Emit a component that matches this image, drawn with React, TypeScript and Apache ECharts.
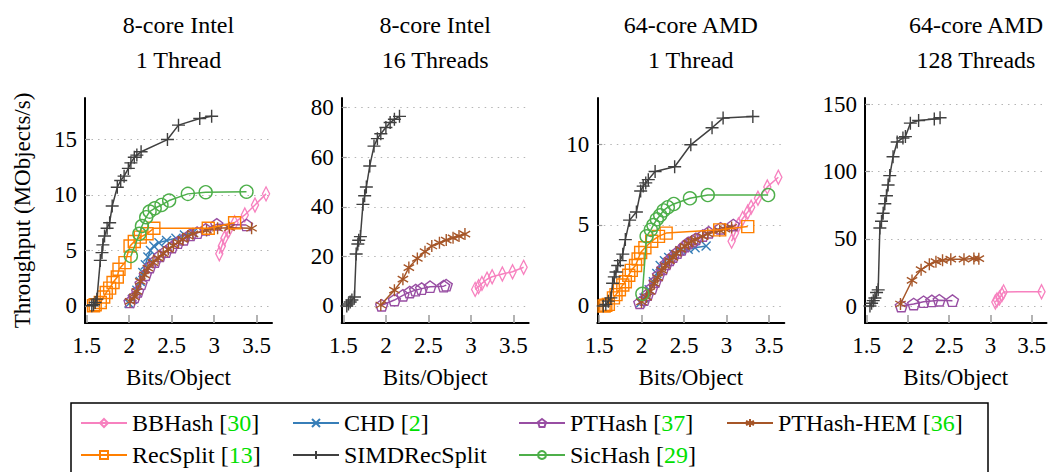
import React, { useEffect, useRef } from "react";
import * as echarts from "echarts";

const FONT = "Liberation Serif, serif";

// ---------- tick labels & titles ----------
const panelTitles = [
  "8-core Intel\n1 Thread",
  "8-core Intel\n16 Threads",
  "64-core AMD\n1 Thread",
  "64-core AMD\n128 Threads",
];
const xTicks = [1.5, 2, 2.5, 3, 3.5];
const yTicksI1 = [0, 5, 10, 15];
const yTicksI16 = [0, 20, 40, 60, 80];
const yTicksA1 = [0, 5, 10];
const yTicksA128 = [0, 50, 100, 150];

// ---------- Panel 1: 8-core Intel, 1 thread ----------
const bbhashI1 = [[3.06, 4.7], [3.09, 5.4], [3.12, 6.1], [3.17, 6.8], [3.24, 7.5], [3.36, 8.2], [3.48, 9.1], [3.61, 10.1]];
const chdI1 = [[2.0, 0.2], [2.04, 0.6], [2.09, 1.4], [2.13, 2.2], [2.16, 3.0], [2.19, 3.7], [2.22, 4.4], [2.25, 5.0], [2.29, 5.4], [2.35, 5.7], [2.44, 5.9], [2.55, 6.1], [2.65, 6.4], [2.75, 6.6]];
const pthashI1 = [[2.01, 0.35], [2.06, 0.8], [2.1, 1.3], [2.14, 2.0], [2.19, 2.8], [2.24, 3.5], [2.3, 4.0], [2.36, 4.5], [2.43, 4.9], [2.5, 5.3], [2.57, 5.7], [2.64, 6.0], [2.72, 6.4], [2.8, 6.6], [2.9, 6.9], [3.03, 7.35], [3.38, 7.3]];
const hemI1 = [[2.01, 0.4], [2.06, 0.8], [2.09, 1.3], [2.13, 2.2], [2.18, 2.8], [2.22, 3.4], [2.28, 3.9], [2.34, 4.3], [2.4, 4.7], [2.46, 5.1], [2.52, 5.45], [2.58, 5.75], [2.63, 6.0], [2.69, 6.3], [2.75, 6.5], [2.91, 6.8], [3.04, 7.0], [3.18, 7.05], [3.44, 7.0]];
const recsplitI1 = [[1.58, 0.0], [1.6, 0.1], [1.66, 0.3], [1.7, 0.8], [1.73, 1.2], [1.77, 1.6], [1.81, 2.1], [1.86, 2.6], [1.88, 3.3], [1.95, 3.9], [2.01, 5.4], [2.06, 5.8], [2.13, 6.2], [2.21, 6.5], [2.29, 7.0], [2.93, 7.0], [3.24, 7.5]];
const simdI1 = [[1.56, 0.0], [1.58, 0.1], [1.6, 0.3], [1.62, 0.6], [1.66, 4.1], [1.68, 4.8], [1.69, 5.5], [1.71, 6.3], [1.74, 7.0], [1.77, 7.5], [1.8, 9.0], [1.86, 10.7], [1.9, 11.3], [1.94, 11.7], [1.99, 12.4], [2.02, 12.9], [2.06, 13.4], [2.09, 13.6], [2.14, 13.9], [2.45, 15.0], [2.58, 16.3], [2.83, 16.9], [2.97, 17.1]];
const sichashI1 = [[2.02, 4.5], [2.12, 6.5], [2.15, 7.2], [2.2, 8.0], [2.24, 8.5], [2.3, 8.8], [2.38, 9.1], [2.47, 9.5], [2.69, 10.1], [2.9, 10.25], [3.38, 10.3]];

// ---------- Panel 2: 8-core Intel, 16 threads ----------
const bbhashI16 = [[3.05, 6.7], [3.09, 7.8], [3.13, 9.1], [3.19, 10.8], [3.25, 11.8], [3.37, 12.9], [3.49, 13.8], [3.62, 15.6]];
const pthashI16 = [[1.95, 0.3], [2.1, 2.4], [2.2, 4.3], [2.28, 5.6], [2.35, 6.4], [2.42, 7.0], [2.52, 7.8], [2.68, 8.0], [2.71, 8.4]];
const hemI16 = [[1.94, 0.4], [2.1, 6.4], [2.2, 10.8], [2.27, 15.5], [2.37, 19.2], [2.46, 21.9], [2.54, 24.2], [2.63, 25.5], [2.71, 26.6], [2.79, 27.5], [2.86, 28.2], [2.93, 29.0]];
const simdI16 = [[1.54, 0.0], [1.56, 0.8], [1.58, 1.6], [1.6, 2.4], [1.63, 3.6], [1.65, 21.0], [1.67, 25.0], [1.68, 26.5], [1.7, 28.0], [1.73, 41.0], [1.75, 44.5], [1.77, 48.0], [1.81, 56.5], [1.86, 64.5], [1.9, 67.5], [1.94, 69.5], [2.0, 72.0], [2.05, 74.0], [2.1, 75.3], [2.16, 76.5]];

// ---------- Panel 3: 64-core AMD, 1 thread ----------
const bbhashA1 = [[3.06, 4.0], [3.1, 4.5], [3.14, 5.0], [3.19, 5.4], [3.25, 5.8], [3.29, 6.1], [3.37, 6.65], [3.48, 7.35], [3.61, 7.95]];
const chdA1 = [[1.99, 0.2], [2.03, 0.5], [2.09, 1.0], [2.14, 1.5], [2.18, 2.0], [2.22, 2.5], [2.27, 2.8], [2.32, 3.0], [2.38, 3.2], [2.45, 3.4], [2.55, 3.5], [2.63, 3.6], [2.76, 3.7]];
const pthashA1 = [[1.98, 0.2], [2.03, 0.4], [2.07, 0.7], [2.12, 1.1], [2.16, 1.5], [2.2, 1.9], [2.25, 2.3], [2.29, 2.6], [2.33, 2.85], [2.37, 3.05], [2.42, 3.3], [2.47, 3.5], [2.51, 3.7], [2.55, 3.9], [2.6, 4.0], [2.64, 4.15], [2.72, 4.35], [2.79, 4.55], [2.93, 4.8], [3.08, 5.0]];
const hemA1 = [[2.0, 0.25], [2.06, 0.55], [2.1, 0.9], [2.15, 1.4], [2.19, 1.75], [2.24, 2.2], [2.28, 2.5], [2.33, 2.8], [2.37, 3.0], [2.41, 3.25], [2.46, 3.5], [2.51, 3.7], [2.55, 3.85], [2.59, 4.0], [2.63, 4.1], [2.72, 4.3], [2.78, 4.45], [2.92, 4.65], [2.98, 4.75], [3.06, 4.85]];
const recsplitA1 = [[1.56, 0.0], [1.58, 0.05], [1.61, 0.1], [1.67, 0.5], [1.7, 0.7], [1.74, 1.0], [1.78, 1.3], [1.81, 1.5], [1.85, 1.9], [1.88, 2.2], [1.93, 2.5], [1.96, 2.9], [1.99, 3.3], [2.04, 3.6], [2.12, 4.0], [2.2, 4.3], [2.29, 4.5], [2.92, 4.7], [3.25, 4.9]];
const simdA1 = [[1.55, 0.0], [1.58, 0.1], [1.61, 0.3], [1.64, 0.5], [1.66, 1.4], [1.68, 1.8], [1.7, 2.1], [1.72, 2.5], [1.75, 2.8], [1.78, 3.2], [1.81, 4.1], [1.86, 5.3], [1.94, 5.8], [1.99, 7.1], [2.02, 7.4], [2.05, 7.6], [2.08, 7.8], [2.16, 8.3], [2.39, 8.6], [2.58, 9.95], [2.83, 11.0], [2.96, 11.6], [3.31, 11.7]];
const sichashA1 = [[2.01, 0.75], [2.06, 4.3], [2.11, 4.7], [2.14, 5.0], [2.18, 5.35], [2.22, 5.6], [2.26, 5.9], [2.31, 6.1], [2.38, 6.3], [2.57, 6.65], [2.78, 6.85], [3.49, 6.85]];

// ---------- Panel 4: 64-core AMD, 128 threads ----------
const bbhashA128 = [[3.06, 3.0], [3.08, 4.5], [3.11, 6.0], [3.14, 8.5], [3.16, 10.5], [3.62, 10.6]];
const pthashA128 = [[1.92, 0.0], [2.07, 1.5], [2.19, 3.2], [2.29, 3.8], [2.38, 4.3], [2.54, 4.0]];
const hemA128 = [[1.91, 1.5], [2.05, 19.0], [2.16, 27.0], [2.26, 31.0], [2.34, 33.0], [2.42, 34.0], [2.52, 34.8], [2.68, 34.8], [2.8, 35.3], [2.86, 35.2]];
const simdA128 = [[1.54, 0.0], [1.56, 2.0], [1.58, 4.0], [1.6, 6.0], [1.62, 10.0], [1.64, 12.0], [1.66, 58.0], [1.68, 63.0], [1.7, 69.0], [1.72, 76.0], [1.74, 82.0], [1.76, 90.0], [1.78, 97.0], [1.82, 111.0], [1.87, 122.0], [1.94, 125.0], [1.97, 126.0], [2.03, 136.0], [2.13, 138.0], [2.32, 139.0], [2.39, 140.0]];

// ---------- method styles ----------
const PENT = "path://M50,0L97.55,34.55L79.39,90.45L20.61,90.45L2.45,34.55Z";
const AST = "path://M5,0L5,10M0.67,2.5L9.33,7.5M0.67,7.5L9.33,2.5";
const methods = [
  { key: "BBHash", ref: "30", color: "#f781bf", symbol: "path://M5,0L10,7L5,14L0,7Z", size: [10, 14] },
  { key: "CHD", ref: "2", color: "#377eb8", symbol: "path://M0,0L10,10M0,10L10,0", size: 9 },
  { key: "PTHash", ref: "37", color: "#984ea3", symbol: PENT, size: 12 },
  { key: "PTHash-HEM", ref: "36", color: "#a65628", symbol: AST, size: 12 },
  { key: "RecSplit", ref: "13", color: "#ff7f00", symbol: "path://M0,0L10,0L10,10L0,10Z", size: 12 },
  { key: "SIMDRecSplit", ref: "", color: "#404040", symbol: "path://M0,5L10,5M5,0L5,10", size: 13 },
  { key: "SicHash", ref: "29", color: "#4daf4a", symbol: "circle", size: 13 },
];

const panelData: Record<string, number[][]>[] = [
  { BBHash: bbhashI1, CHD: chdI1, PTHash: pthashI1, "PTHash-HEM": hemI1, RecSplit: recsplitI1, SIMDRecSplit: simdI1, SicHash: sichashI1 },
  { BBHash: bbhashI16, PTHash: pthashI16, "PTHash-HEM": hemI16, SIMDRecSplit: simdI16 },
  { BBHash: bbhashA1, CHD: chdA1, PTHash: pthashA1, "PTHash-HEM": hemA1, RecSplit: recsplitA1, SIMDRecSplit: simdA1, SicHash: sichashA1 },
  { BBHash: bbhashA128, PTHash: pthashA128, "PTHash-HEM": hemA128, SIMDRecSplit: simdA128 },
];
const panelYTicks = [yTicksI1, yTicksI16, yTicksA1, yTicksA128];

// layout (pixels)
const gridLefts = [85, 341.7, 597.3, 865];
const titleCenters = [178.5, 435.2, 690.8, 976];
const gridTop = 98;
const gridW = 187;
const gridH = 225;
const yRanges = [[-1.55, 18.75], [-6.86, 83.9], [-1.05, 12.84], [-12.64, 154.7]];
const legendPos: Record<string, [number, number]> = {
  BBHash: [80, 410],
  CHD: [292, 410],
  PTHash: [518, 410],
  "PTHash-HEM": [726, 410],
  RecSplit: [80, 442],
  SIMDRecSplit: [292, 442],
  SicHash: [518, 442],
};
const FS = 23;

export default function App() {
  const ref = useRef<HTMLDivElement>(null);
  useEffect(() => {
    if (!ref.current) return;
    const chart = echarts.init(ref.current, undefined, { renderer: "svg" });

    const grid = gridLefts.map((l) => ({ left: l, top: gridTop, width: gridW, height: gridH }));
    const xAxis = gridLefts.map((_, i) => ({
      type: "value",
      gridIndex: i,
      min: 1.48,
      max: 3.68,
      axisLine: { show: true, onZero: false, lineStyle: { color: "#000", width: 2 } },
      axisTick: { show: true, inside: true, length: 8, customValues: xTicks, lineStyle: { color: "#9a9a9a", width: 1.5 } },
      axisLabel: {
        customValues: xTicks,
        fontSize: FS,
        fontFamily: FONT,
        color: "#000",
        margin: 11,
        hideOverlap: false,
        formatter: (v: number) => String(v),
      },
      splitLine: { show: false },
      name: "Bits/Object",
      nameLocation: "middle",
      nameGap: 43,
      nameTextStyle: { fontSize: FS, fontFamily: FONT, color: "#000" },
    }));
    const yAxis = gridLefts.map((_, i) => ({
      type: "value",
      gridIndex: i,
      min: yRanges[i][0],
      max: yRanges[i][1],
      axisLine: { show: true, onZero: false, lineStyle: { color: "#000", width: 2 } },
      axisTick: { show: true, inside: true, length: 5, customValues: panelYTicks[i], lineStyle: { color: "#9a9a9a", width: 1.2 } },
      axisLabel: {
        customValues: panelYTicks[i],
        fontSize: FS,
        fontFamily: FONT,
        color: "#000",
        margin: 8,
        formatter: (v: number) => String(v),
      },
      splitLine: { show: true, lineStyle: { color: "#b5b5b5", width: 1, type: [1.5, 5] } },
      ...(i === 0
        ? {
            name: "Throughput (MObjects/s)",
            nameLocation: "middle",
            nameGap: 51,
            nameRotate: 90,
            nameTextStyle: { fontSize: FS, fontFamily: FONT, color: "#000" },
          }
        : {}),
    }));

    const series: any[] = [];
    panelData.forEach((pd, i) => {
      methods.forEach((m, mi) => {
        const d = pd[m.key];
        if (!d) return;
        series.push({
          type: "line",
          name: m.key,
          xAxisIndex: i,
          yAxisIndex: i,
          data: d,
          symbol: m.symbol,
          symbolSize: m.size,
          symbolKeepAspect: true,
          showSymbol: true,
          z: 2 + mi,
          lineStyle: { color: m.color, width: 1.5 },
          itemStyle: { color: "rgba(255,255,255,0)", borderColor: m.color, borderWidth: 1.4 },
          emphasis: { disabled: true },
        });
      });
    });

    const rich = {
      n: { fontSize: 24, fontFamily: FONT, color: "#000" },
      g: { fontSize: 24, fontFamily: FONT, color: "#00e000" },
    };
    const legend = methods.map((m) => ({
      data: [m.key],
      left: legendPos[m.key][0],
      top: legendPos[m.key][1],
      padding: 0,
      itemGap: 0,
      itemWidth: 46,
      itemHeight: 10,
      selectedMode: false,
      textStyle: { fontSize: 24, fontFamily: FONT, color: "#000", lineHeight: 26, rich },
      formatter: (name: string) => {
        const mm = methods.find((x) => x.key === name)!;
        return mm.ref ? `{n|${name} [}{g|${mm.ref}}{n|]}` : `{n|${name}}`;
      },
    }));

    const title = panelTitles.map((t, i) => ({
      text: t,
      left: titleCenters[i],
      top: 7,
      textAlign: "center",
      padding: 0,
      textStyle: { fontSize: 24, fontFamily: FONT, fontWeight: "normal", color: "#000", lineHeight: 35 },
    }));

    chart.setOption({
      animation: false,
      backgroundColor: "#fff",
      textStyle: { fontFamily: FONT },
      title,
      grid,
      xAxis,
      yAxis,
      series,
      legend,
      graphic: [
        {
          type: "rect",
          z: -1,
          shape: { x: 71, y: 403, width: 917, height: 90 },
          style: { fill: "#fff", stroke: "#000", lineWidth: 1.5 },
        },
      ],
    });
    return () => chart.dispose();
  }, []);
  return <div ref={ref} style={{ position: "absolute", left: 0, top: 0, width: 1049, height: 472 }} />;
}
